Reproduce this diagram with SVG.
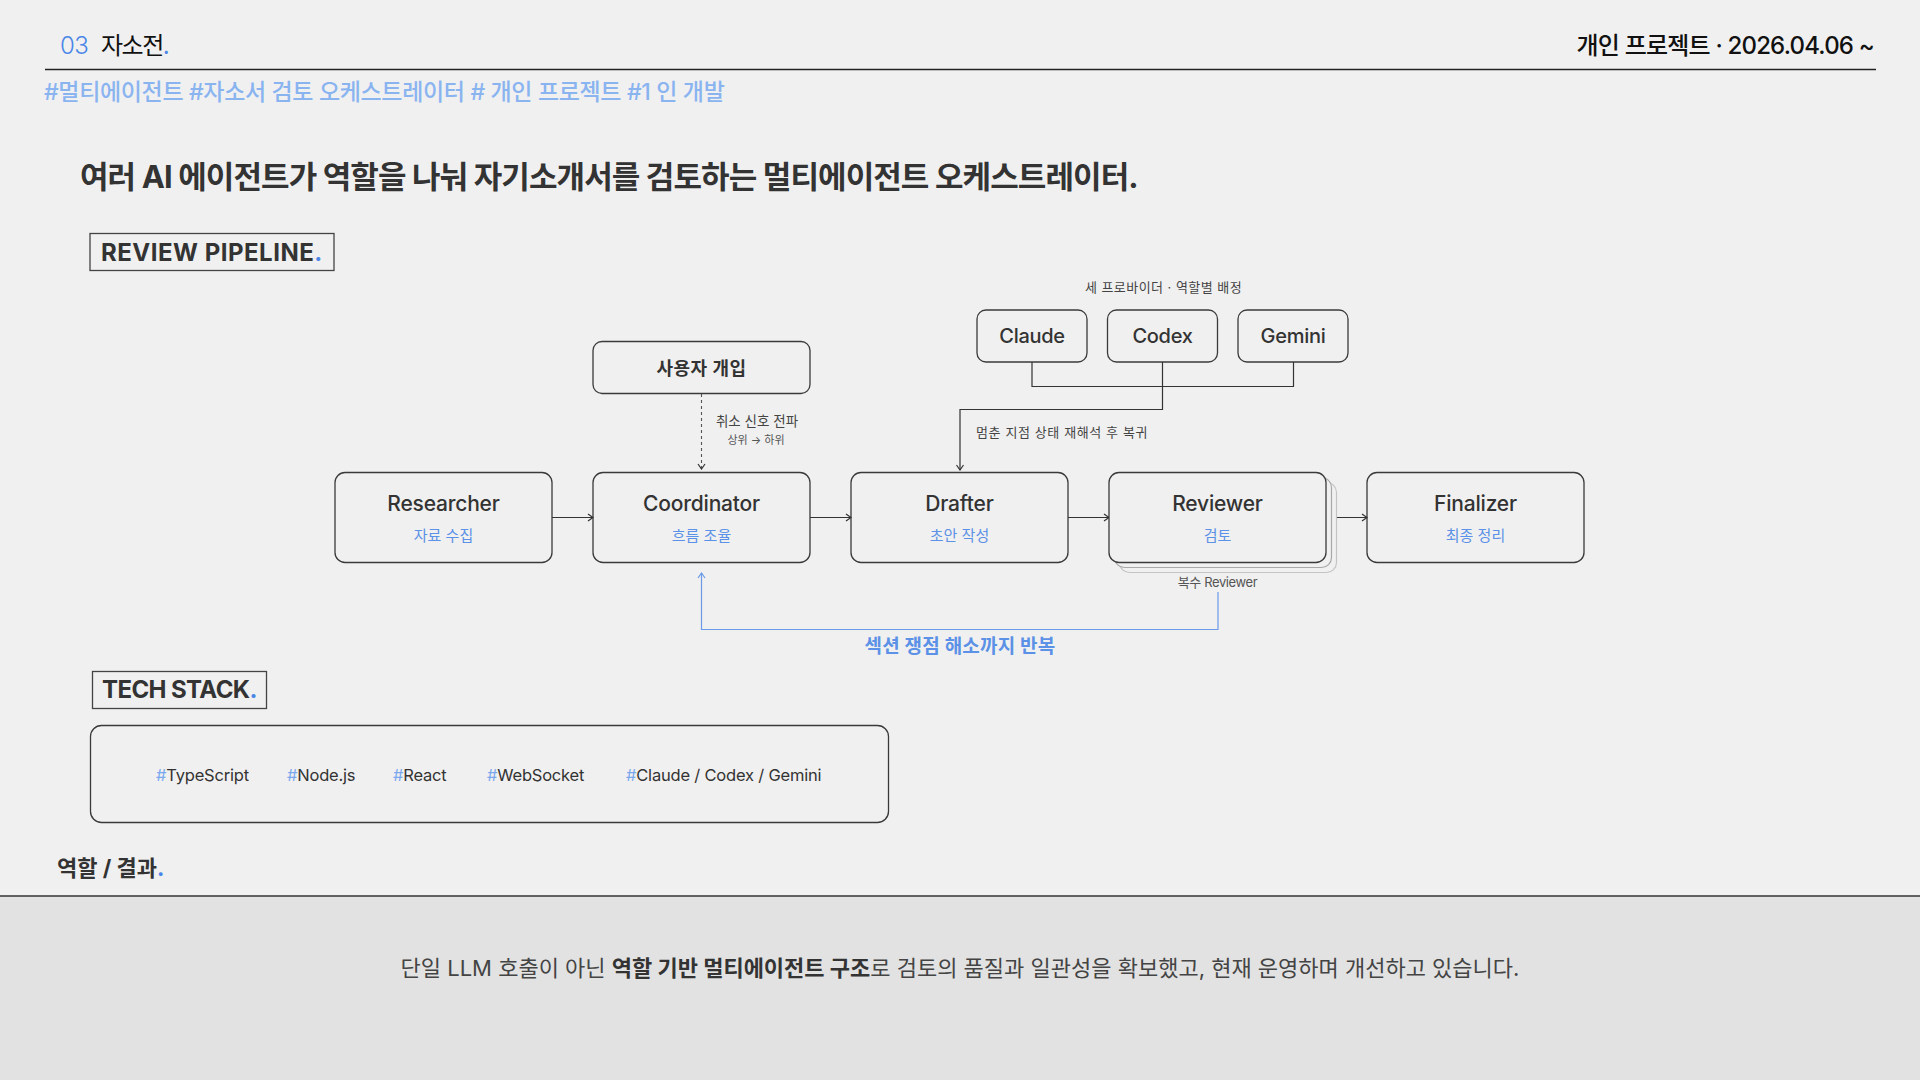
<svg xmlns="http://www.w3.org/2000/svg" width="1920" height="1080" viewBox="0 0 1920 1080">
<style>
  text { font-family: Inter, "Noto Sans CJK KR", sans-serif; }
  .dark { fill: #333333; }
  .blue { fill: #4a86e8; }
  .node { fill: none; stroke: #3a3a3a; stroke-width: 1.3; }
  .ntitle { font-size: 21px; font-weight: 500; fill: #333333; text-anchor: middle; letter-spacing: -0.2px; }
  .nsub { font-size: 15px; fill: #5b91e6; text-anchor: middle; }
  .prov { font-size: 20px; font-weight: 500; fill: #333333; text-anchor: middle; letter-spacing: -0.3px; }
  .small { font-size: 13px; fill: #444444; }
  .edge { fill: none; stroke: #333333; stroke-width: 1.2; }
  .heading { font-size: 24px; font-weight: 700; fill: #333333; }
  .tag { font-size: 16.5px; fill: #333333; letter-spacing: -0.2px; }
  .hash { fill: #7aa8ee; }
</style>
<defs>
  <marker id="arr" viewBox="0 0 10 10" refX="9" refY="5" markerWidth="10" markerHeight="10" markerUnits="userSpaceOnUse" orient="auto">
    <path d="M4,1.5 L9,5 L4,8.5" fill="none" stroke="#333333" stroke-width="1.2"/>
  </marker>
  <marker id="arrBlue" viewBox="0 0 10 10" refX="9" refY="5" markerWidth="10" markerHeight="10" markerUnits="userSpaceOnUse" orient="auto">
    <path d="M4,1.5 L9,5 L4,8.5" fill="none" stroke="#6a9ae8" stroke-width="1.2"/>
  </marker>
</defs>

<rect x="0" y="0" width="1920" height="1080" fill="#f0f0f0"/>
<rect x="0" y="896" width="1920" height="184" fill="#e2e2e2"/>
<line x1="0" y1="896" x2="1920" y2="896" stroke="#333333" stroke-width="1.5"/>

<!-- header -->
<g id="header">
  <text x="60" y="54" font-size="24" font-weight="300" fill="#4a86e8" letter-spacing="-0.5">03</text>
  <text x="101" y="54" font-size="24" fill="#111111" letter-spacing="-1.5">자소전<tspan class="blue">.</tspan></text>
  <text x="1874" y="54" font-size="24" font-weight="500" fill="#111111" text-anchor="end" letter-spacing="-0.8">개인 프로젝트 · 2026.04.06 ~</text>
  <line x1="45" y1="69.5" x2="1876" y2="69.5" stroke="#222222" stroke-width="1.5"/>
  <text x="44" y="100" font-size="23" font-weight="500" fill="#8ab4f0" letter-spacing="-0.35">#멀티에이전트 #자소서 검토 오케스트레이터 # 개인 프로젝트 #1 인 개발</text>
  <text x="80" y="188" font-size="31" font-weight="700" fill="#333333" letter-spacing="-0.9">여러 AI 에이전트가 역할을 나눠 자기소개서를 검토하는 멀티에이전트 오케스트레이터.</text>
</g>

<g id="review-pipeline-label">
  <rect x="90" y="233.5" width="244" height="37" fill="none" stroke="#444444" stroke-width="1.3"/>
  <text x="101" y="261" class="heading" letter-spacing="0.5">REVIEW PIPELINE<tspan class="blue">.</tspan></text>
</g>

<!-- connectors -->
<g id="connectors">
  <line class="edge" x1="552" y1="517.5" x2="593" y2="517.5" marker-end="url(#arr)"/>
  <line class="edge" x1="810" y1="517.5" x2="851" y2="517.5" marker-end="url(#arr)"/>
  <line class="edge" x1="1068" y1="517.5" x2="1109" y2="517.5" marker-end="url(#arr)"/>
  <line class="edge" x1="1326" y1="517.5" x2="1367" y2="517.5" marker-end="url(#arr)"/>
  <line x1="701.5" y1="394" x2="701.5" y2="469" fill="none" stroke="#555555" stroke-width="1.1" stroke-dasharray="3,3" marker-end="url(#arr)"/>
  <path class="edge" d="M1032,362 V386.5 H1293.5 V362 M1162.5,362 V409.5 H960 V470" marker-end="url(#arr)"/>
  <path d="M1218,592 V629.5 H701.5 V573" fill="none" stroke="#6a9ae8" stroke-width="1.2" marker-end="url(#arrBlue)"/>
  <text x="757" y="426" font-size="13.5" fill="#444444" text-anchor="middle">취소 신호 전파</text>
  <text x="756" y="444" font-size="11" fill="#555555" text-anchor="middle">상위 → 하위</text>
  <text x="976" y="437" class="small" letter-spacing="0.6">멈춘 지점 상태 재해석 후 복귀</text>
  <text x="960" y="653" font-size="19" font-weight="700" fill="#5b91e6" text-anchor="middle" letter-spacing="0.2">섹션 쟁점 해소까지 반복</text>
</g>

<text x="1163.5" y="292" class="small" text-anchor="middle" letter-spacing="0.45">세 프로바이더 · 역할별 배정</text>

<g id="claude">
  <rect class="node" x="977" y="310" width="110" height="52" rx="9"/>
  <text class="prov" x="1032" y="343">Claude</text>
</g>
<g id="codex">
  <rect class="node" x="1107.5" y="310" width="110" height="52" rx="9"/>
  <text class="prov" x="1162.5" y="343">Codex</text>
</g>
<g id="gemini">
  <rect class="node" x="1238" y="310" width="110" height="52" rx="9"/>
  <text class="prov" x="1293" y="343">Gemini</text>
</g>

<g id="user-intervention">
  <rect class="node" x="593" y="341.5" width="217" height="52" rx="9"/>
  <text x="701.5" y="375" font-size="18" font-weight="700" fill="#333333" text-anchor="middle" letter-spacing="0.5">사용자 개입</text>
</g>

<g id="researcher">
  <rect class="node" x="335" y="472.5" width="217" height="90" rx="10"/>
  <text class="ntitle" x="443.5" y="511">Researcher</text>
  <text class="nsub" x="443.5" y="541">자료 수집</text>
</g>
<g id="coordinator">
  <rect class="node" x="593" y="472.5" width="217" height="90" rx="10"/>
  <text class="ntitle" x="701.5" y="511">Coordinator</text>
  <text class="nsub" x="701.5" y="541">흐름 조율</text>
</g>
<g id="drafter">
  <rect class="node" x="851" y="472.5" width="217" height="90" rx="10"/>
  <text class="ntitle" x="959.5" y="511">Drafter</text>
  <text class="nsub" x="959.5" y="541">초안 작성</text>
</g>
<g id="reviewer">
  <rect x="1119.5" y="482.5" width="217" height="90" rx="10" fill="#f0f0f0" stroke="#c4c4c4" stroke-width="1.2"/>
  <rect x="1114.5" y="477.5" width="217" height="90" rx="10" fill="#f0f0f0" stroke="#a8a8a8" stroke-width="1.2"/>
  <rect x="1109" y="472.5" width="217" height="90" rx="10" fill="#f0f0f0" stroke="#3a3a3a" stroke-width="1.3"/>
  <text class="ntitle" x="1217.5" y="511">Reviewer</text>
  <text class="nsub" x="1217.5" y="541">검토</text>
  <text x="1217.5" y="587" font-size="13" fill="#555555" text-anchor="middle" letter-spacing="-0.4">복수 Reviewer</text>
</g>
<g id="finalizer">
  <rect class="node" x="1367" y="472.5" width="217" height="90" rx="10"/>
  <text class="ntitle" x="1475.5" y="511">Finalizer</text>
  <text class="nsub" x="1475.5" y="541">최종 정리</text>
</g>

<g id="tech-stack-label">
  <rect x="92.5" y="671.5" width="174" height="37" fill="none" stroke="#444444" stroke-width="1.3"/>
  <text x="102" y="698" class="heading" letter-spacing="-0.6">TECH STACK<tspan class="blue">.</tspan></text>
</g>

<g id="tech-stack">
  <rect x="90.5" y="725.5" width="798" height="97" rx="11" fill="none" stroke="#3a3a3a" stroke-width="1.3"/>
  <text class="tag" x="156" y="781"><tspan class="hash">#</tspan>TypeScript</text>
  <text class="tag" x="287" y="781"><tspan class="hash">#</tspan>Node.js</text>
  <text class="tag" x="393" y="781"><tspan class="hash">#</tspan>React</text>
  <text class="tag" x="487" y="781"><tspan class="hash">#</tspan>WebSocket</text>
  <text class="tag" x="626" y="781"><tspan class="hash">#</tspan>Claude / Codex / Gemini</text>
</g>

<g id="result">
  <text x="57" y="876" font-size="22" font-weight="700" fill="#333333" letter-spacing="0">역할 / 결과<tspan class="blue">.</tspan></text>
  <text x="960" y="976" font-size="22" fill="#444444" text-anchor="middle" letter-spacing="0">단일 LLM 호출이 아닌 <tspan font-weight="700" fill="#333333">역할 기반 멀티에이전트 구조</tspan>로 검토의 품질과 일관성을 확보했고, 현재 운영하며 개선하고 있습니다.</text>
</g>
</svg>
